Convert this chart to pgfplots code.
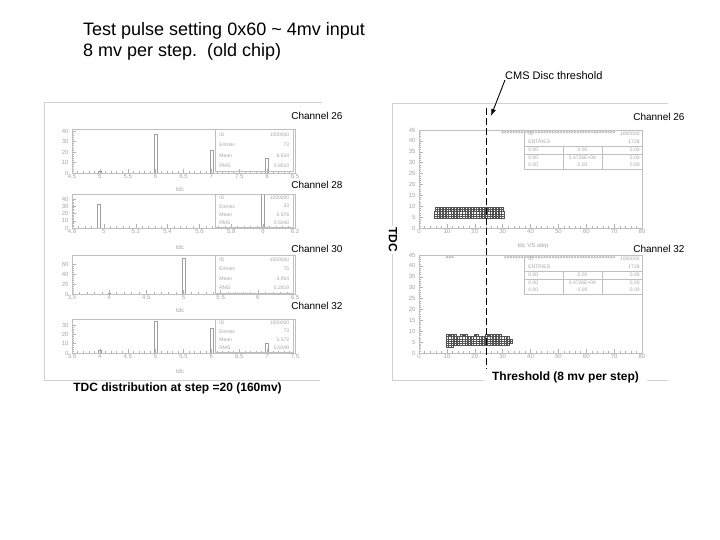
\documentclass[border=0pt]{standalone}
\usepackage{pgfplots}
\pgfplotsset{compat=1.18}
\usepackage{fontspec}
\setmainfont{Liberation Sans}
\usetikzlibrary{arrows.meta}

\tikzset{stat/.style={font=\fontsize{5}{6}\selectfont, text=gray!70, inner sep=0pt}}
\pgfplotsset{
  rootax/.style={
    scale only axis, width=223pt,
    axis line style={gray!50},
    every tick/.style={gray!60},
    tick align=inside,
    major tick length=3.5pt, minor tick length=1.8pt,
    ticklabel style={font=\fontsize{6}{7}\selectfont, text=gray!70},
    xticklabel style={inner sep=1.5pt},
    /pgf/number format/assume math mode=true,
    xtick pos=bottom, ytick pos=left,
    clip mode=individual,
    minor x tick num=4, minor y tick num=4,
  },
  hbar/.style={ybar, bar width=2.8pt, draw=gray!75, line width=0.5pt},
  rbox/.style={only marks, mark=square, mark size=1.15pt, gray!65!black, mark options={line width=0.35pt}},
  ovf/.style={only marks, mark=o, mark size=1pt, gray!70, mark options={line width=0.35pt}},
}

% left-hand stats box: ID, entries, mean, rms
\newcommand{\lstats}[3]{%
  \draw[gray!50] (rel axis cs:0.641,0.03) rectangle (rel axis cs:0.991,1);
  \node[stat,anchor=west] at (rel axis cs:0.66,0.875) {ID};
  \node[stat,anchor=east] at (rel axis cs:0.975,0.875) {1000000};
  \node[stat,anchor=west] at (rel axis cs:0.66,0.64) {Entries};
  \node[stat,anchor=east] at (rel axis cs:0.975,0.64) {#1};
  \node[stat,anchor=west] at (rel axis cs:0.66,0.40) {Mean};
  \node[stat,anchor=east] at (rel axis cs:0.975,0.40) {#2};
  \node[stat,anchor=west] at (rel axis cs:0.66,0.16) {RMS};
  \node[stat,anchor=east] at (rel axis cs:0.975,0.16) {#3};
}

% right-hand stats table
\newcommand{\rstats}{%
  \draw[gray!50] (rel axis cs:0.471,0.602) rectangle (rel axis cs:1,1);
  \draw[gray!50] (rel axis cs:0.471,0.837) -- (rel axis cs:1,0.837);
  \draw[gray!50] (rel axis cs:0.471,0.755) -- (rel axis cs:1,0.755);
  \draw[gray!50] (rel axis cs:0.646,0.602) -- (rel axis cs:0.646,0.837);
  \draw[gray!50] (rel axis cs:0.821,0.602) -- (rel axis cs:0.821,0.837);
  \node[stat,anchor=west] at (rel axis cs:0.49,0.96) {ID};
  \node[stat,anchor=east] at (rel axis cs:0.99,0.96) {1000000};
  \node[stat,anchor=west] at (rel axis cs:0.49,0.877) {ENTRIES};
  \node[stat,anchor=east] at (rel axis cs:0.99,0.877) {1728};
  \node[stat,anchor=west] at (rel axis cs:0.49,0.796) {0.00};
  \node[stat] at (rel axis cs:0.733,0.796) {0.00};
  \node[stat,anchor=east] at (rel axis cs:0.99,0.796) {0.00};
  \node[stat,anchor=west] at (rel axis cs:0.49,0.717) {0.00};
  \node[stat] at (rel axis cs:0.733,0.717) {0.4726E+04};
  \node[stat,anchor=east] at (rel axis cs:0.99,0.717) {0.00};
  \node[stat,anchor=west] at (rel axis cs:0.49,0.640) {0.00};
  \node[stat] at (rel axis cs:0.733,0.640) {0.00};
  \node[stat,anchor=east] at (rel axis cs:0.99,0.640) {0.00};
}

\begin{document}
\begin{tikzpicture}
\path[use as bounding box, fill=white] (0,0) rectangle (720pt,540pt);

% slide text
\node[anchor=base west, inner sep=0pt, font=\fontsize{18}{21}\selectfont] at (83pt,504pt) {Test pulse setting 0x60 \textasciitilde{} 4mv input};
\node[anchor=base west, inner sep=0pt, font=\fontsize{18}{21}\selectfont] at (83pt,483pt) {8 mv per step.\ \ (old chip)};

% panel frames
\draw[gray!35, line width=0.6pt] (322pt,438pt) -- (44pt,438pt) -- (44pt,160pt) -- (320pt,160pt);
\draw[gray!35, line width=0.6pt] (668pt,437pt) -- (392pt,437pt) -- (392pt,160pt) -- (668pt,160pt);

% ---------------- left: TDC distributions ----------------
\begin{axis}[rootax, at={(72pt,367pt)}, anchor=south west, height=44pt,
  xmin=4.5, xmax=8.5, ymin=0, ymax=41.9,
  xtick={4.5,5,5.5,6,6.5,7,7.5,8,8.5}, ytick={0,10,20,30,40}]
  \addplot[hbar] coordinates {(5,2) (6,37) (7,22) (8,14)};
  \lstats{73}{6.634}{0.8510}
\end{axis}

\begin{axis}[rootax, at={(72pt,312pt)}, anchor=south west, height=34pt,
  xmin=4.8, xmax=6.2, ymin=0, ymax=46.9,
  xtick={4.8,5,5.2,5.4,5.6,5.8,6,6.2}, ytick={0,10,20,30,40}]
  \addplot[hbar] coordinates {(4.97,33) (6,46)};
  \lstats{33}{5.576}{0.5040}
\end{axis}

\begin{axis}[rootax, at={(72pt,246pt)}, anchor=south west, height=39pt,
  xmin=3.5, xmax=6.5, ymin=0, ymax=78,
  xtick={3.5,4,4.5,5,5.5,6,6.5}, ytick={0,20,40,60}]
  \addplot[hbar] coordinates {(4,2) (5,72) (6,1)};
  \lstats{75}{4.954}{0.2819}
\end{axis}

\begin{axis}[rootax, at={(72pt,187pt)}, anchor=south west, height=34pt,
  xmin=3.5, xmax=7.5, ymin=0, ymax=36.4,
  xtick={3.5,4,4.5,5,5.5,6,6.5,7,7.5}, ytick={0,10,20,30}]
  \addplot[hbar] coordinates {(4,3) (5,34) (6,26) (7,10)};
  \lstats{73}{5.572}{0.8349}
\end{axis}

% ---------------- right: tdc vs step ----------------
\begin{axis}[rootax, at={(419pt,312pt)}, anchor=south west, height=98pt,
  xmin=0, xmax=80, ymin=0, ymax=45,
  xtick={0,10,...,80}, ytick={0,5,...,45}]
  \addplot[rbox, mark size=1pt] coordinates {
    (6,9)(7,9)(8,9)(9,9)(10,9)(11,9)(12,9)(13,9)(14,9)(15,9)(16,9)(17,9)(18,9)(19,9)(20,9)(21,9)(22,9)(23,9)(24,9)(25,9)(26,9)(27,9)(28,9)(29,9)(30,9)
    (6,8)(7,8)(8,8)(9,8)(10,8)(11,8)(12,8)(13,8)(14,8)(15,8)(16,8)(17,8)(18,8)(19,8)(20,8)(21,8)(22,8)(23,8)(24,8)(25,8)(26,8)(27,8)(28,8)(29,8)(30,8)};
  \addplot[rbox] coordinates {
    (6,7)(7,7)(8,7)(9,7)(10,7)(11,7)(12,7)(13,7)(14,7)(15,7)(16,7)(17,7)(18,7)(19,7)(20,7)(21,7)(22,7)(23,7)(24,7)(25,7)(26,7)(27,7)(28,7)(29,7)(30,7)
    (6,6)(7,6)(8,6)(9,6)(10,6)(11,6)(12,6)(13,6)(14,6)(15,6)(16,6)(17,6)(18,6)(19,6)(20,6)(21,6)(22,6)(23,6)(24,6)(25,6)(26,6)(27,6)(28,6)(29,6)(30,6)
    (6,5)(7,5)(8,5)(9,5)(10,5)(11,5)(12,5)(13,5)(14,5)(15,5)(16,5)(17,5)(18,5)(19,5)(20,5)(21,5)(22,5)(23,5)(24,5)(25,5)(26,5)(27,5)(28,5)(29,5)(30,5)};
  \addplot[ovf] coordinates {
    (30,44)(31,44)(32,44)(33,44)(34,44)(35,44)(36,44)(37,44)(38,44)(39,44)(40,44)(41,44)(42,44)(43,44)(44,44)(45,44)(46,44)(47,44)(48,44)(49,44)(50,44)
    (51,44)(52,44)(53,44)(54,44)(55,44)(56,44)(57,44)(58,44)(59,44)(60,44)(61,44)(62,44)(63,44)(64,44)(65,44)(66,44)(67,44)(68,44)(69,44)(70,44)};
  \rstats
\end{axis}

\begin{axis}[rootax, at={(419pt,187pt)}, anchor=south west, height=98pt,
  xmin=0, xmax=80, ymin=0, ymax=45,
  xtick={0,10,...,80}, ytick={0,5,...,45}]
  \addplot[rbox, mark size=0.9pt] coordinates {
    (10,8)(11,8)(12,8)(13,8)(15,8)(16,8)(17,8)(20,8)(21,8)(24,8)(25,8)(26,8)(27,8)(28,8)(29,8)};
  \addplot[rbox] coordinates {
    (10,7)(11,7)(12,7)(13,7)(14,7)(15,7)(16,7)(17,7)(18,7)(19,7)(20,7)(21,7)(22,7)(23,7)(24,7)(25,7)(26,7)(27,7)(28,7)(29,7)(30,7)(31,7)(32,7)
    (10,6)(11,6)(12,6)(13,6)(14,6)(15,6)(16,6)(17,6)(18,6)(19,6)(20,6)(21,6)(22,6)(23,6)(24,6)(25,6)(26,6)(27,6)(28,6)(29,6)(30,6)(31,6)(32,6)(33,6)
    (10,5)(11,5)(12,5)(13,5)(14,5)(15,5)(16,5)(17,5)(18,5)(19,5)(20,5)(21,5)(22,5)(23,5)(24,5)(25,5)(26,5)(27,5)(28,5)(29,5)(30,5)(31,5)(32,5)(33,5)
    (10,4)(11,4)(12,4)(13,4)(14,4)(15,4)(16,4)(17,4)(18,4)(19,4)(20,4)(21,4)(22,4)(23,4)(24,4)(25,4)(26,4)(27,4)(28,4)(29,4)(30,4)(31,4)(32,4)
    (10,3)(11,3)(12,3)};
  \addplot[ovf] coordinates {
    (10,44)(11,44)(12,44)
    (31,44)(32,44)(33,44)(34,44)(35,44)(36,44)(37,44)(38,44)(39,44)(40,44)(41,44)(42,44)(43,44)(44,44)(45,44)(46,44)(47,44)(48,44)(49,44)(50,44)
    (51,44)(52,44)(53,44)(54,44)(55,44)(56,44)(57,44)(58,44)(59,44)(60,44)(61,44)(62,44)(63,44)(64,44)(65,44)(66,44)(67,44)(68,44)(69,44)(70,44)};
  \rstats
\end{axis}

% axis titles in the plot panels
\foreach \y in {351,293,230,169} {
  \node[font=\fontsize{6}{7}\selectfont, text=gray!70] at (180pt,\y pt) {tdc};
}
\node[font=\fontsize{6}{7}\selectfont, text=gray!70] at (533pt,294pt) {tdc VS step};

% channel labels
\node[anchor=east, font=\fontsize{10}{12}\selectfont] at (346pt,424pt) {Channel 26};
\node[anchor=east, font=\fontsize{10}{12}\selectfont] at (346pt,355pt) {Channel 28};
\node[anchor=east, font=\fontsize{10}{12}\selectfont] at (346pt,291pt) {Channel 30};
\node[anchor=east, font=\fontsize{10}{12}\selectfont] at (346pt,234pt) {Channel 32};
\node[anchor=east, font=\fontsize{10}{12}\selectfont] at (688pt,423pt) {Channel 26};
\node[anchor=east, font=\fontsize{10}{12}\selectfont] at (688pt,291pt) {Channel 32};

% threshold marker
\draw[black, line width=1pt, dash pattern=on 7pt off 3pt] (486pt,432pt) -- (486pt,162pt);
\draw[-{Latex[length=7pt,width=5pt]}, line width=0.9pt] (505pt,460pt) -- (491pt,424pt);
\node[anchor=west, inner sep=1pt, font=\fontsize{11}{13}\selectfont] at (504pt,464pt) {CMS Disc threshold};

% panel captions
\node[anchor=base, inner sep=0pt, font=\bfseries\fontsize{12}{14}\selectfont] at (177.5pt,148pt) {TDC distribution at step =20 (160mv)};
\node[anchor=base, fill=white, inner xsep=8pt, inner ysep=3pt, font=\bfseries\fontsize{12}{14}\selectfont] at (565.5pt,159pt) {Threshold (8 mv per step)};
\node[rotate=-90, fill=white, inner sep=2pt, font=\bfseries\fontsize{12}{14}\selectfont] at (393pt,300pt) {TDC};
\end{tikzpicture}
\end{document}
